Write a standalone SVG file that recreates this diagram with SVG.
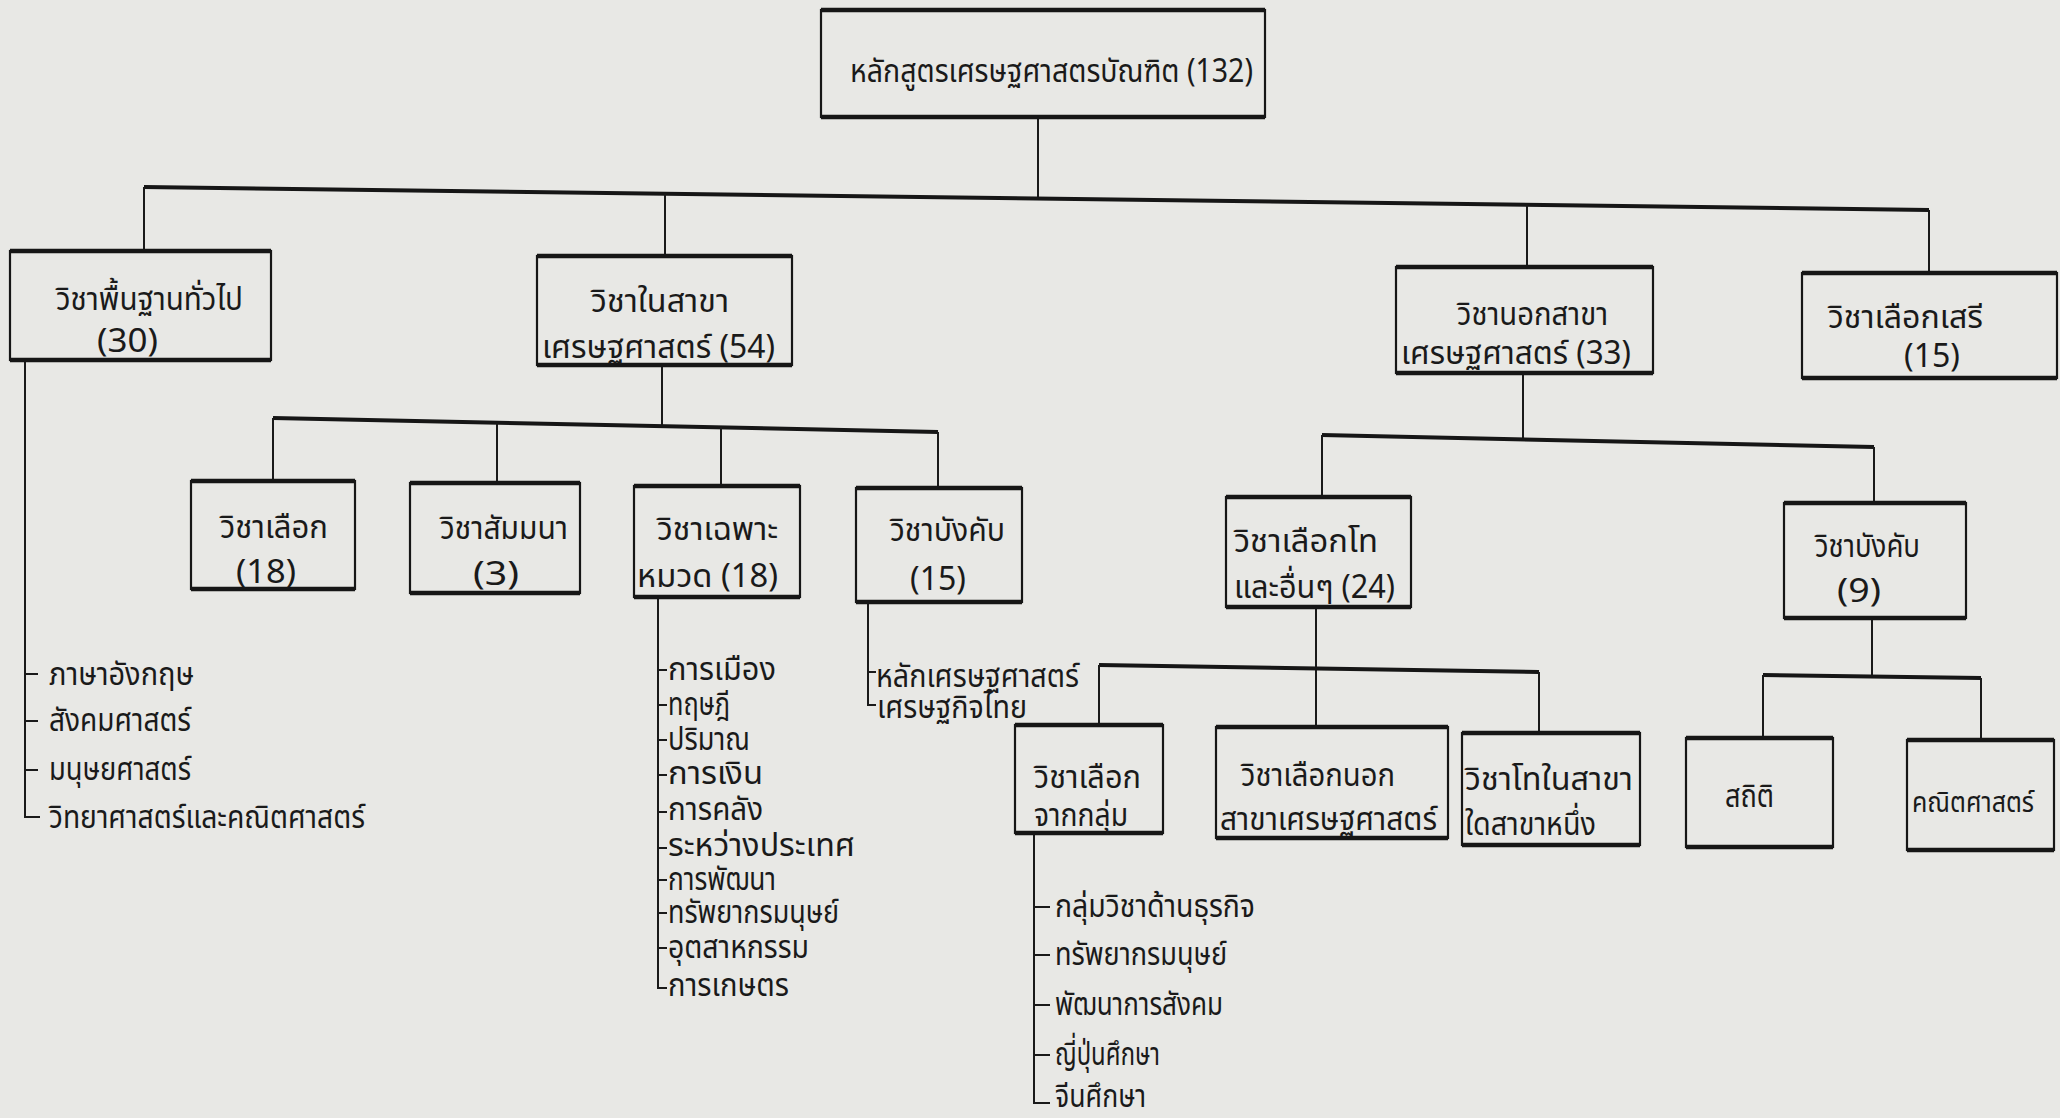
<svg xmlns="http://www.w3.org/2000/svg" width="2060" height="1118" viewBox="0 0 2060 1118">
<style>
.bg{fill:#e8e8e5}
.box{fill:none;stroke:#161616;stroke-width:2.2}
.rule{fill:none;stroke:#161616;stroke-width:4.5}
.ln{fill:none;stroke:#1a1a1a;stroke-width:2}
.bus{fill:none;stroke:#161616;stroke-width:4}
text{font-family:"Noto Sans Thai","Loma","Garuda","Noto Sans",sans-serif;font-size:32px;fill:#1a1a1a}
.sm{font-size:29px}
</style>
<rect class="bg" x="0" y="0" width="2060" height="1118"/>
<g id="connectors">
<path class="ln" d="M1038 117 V198"/>
<path class="bus" d="M144 187 L1929 210"/>
<path class="ln" d="M144 187 V251 M665 194 V256 M1527 205 V267 M1929 210 V273"/>
<path class="ln" d="M662 365 V426"/>
<path class="bus" d="M273 418 L938 432"/>
<path class="ln" d="M273 418 V481 M497 423 V483 M721 427 V486 M938 432 V488"/>
<path class="ln" d="M25 360 V817 H40 M25 674 H38 M25 721 H38 M25 770 H38"/>
<path class="ln" d="M658 597 V988 H667 M658 670 H667 M658 705 H667 M658 740 H667 M658 775 H667 M658 812 H667 M658 848 H667 M658 880 H667 M658 913 H667 M658 948 H667"/>
<path class="ln" d="M868 602 V705 H876 M868 672 H876"/>
<path class="ln" d="M1523 373 V439"/>
<path class="bus" d="M1322 435 L1874 447"/>
<path class="ln" d="M1322 435 V497 M1874 447 V503"/>
<path class="ln" d="M1316 607 V728"/>
<path class="bus" d="M1099 665 L1539 672"/>
<path class="ln" d="M1099 665 V725 M1539 672 V733"/>
<path class="ln" d="M1872 618 V676"/>
<path class="bus" d="M1763 675 L1981 678"/>
<path class="ln" d="M1763 675 V738 M1981 678 V740"/>
<path class="ln" d="M1034 833 V1103 H1050 M1034 907 H1050 M1034 955 H1050 M1034 1005 H1050 M1034 1055 H1050"/>
</g>
<g id="n0"><rect class="box" x="821" y="10" width="444" height="107"/><path class="rule" d="M821 10 H1265 M821 117 H1265"/>
<text x="850" y="82" textLength="403" lengthAdjust="spacingAndGlyphs">หลักสูตรเศรษฐศาสตรบัณฑิต (132)</text></g>
<g id="n1"><rect class="box" x="10" y="251" width="261" height="109"/><path class="rule" d="M10 251 H271 M10 360 H271"/>
<text x="56" y="310" textLength="187" lengthAdjust="spacingAndGlyphs">วิชาพื้นฐานทั่วไป</text>
<text x="97" y="352" textLength="61" lengthAdjust="spacingAndGlyphs">(30)</text></g>
<g id="n2"><rect class="box" x="537" y="256" width="255" height="109"/><path class="rule" d="M537 256 H792 M537 365 H792"/>
<text x="591" y="312" textLength="138" lengthAdjust="spacingAndGlyphs">วิชาในสาขา</text>
<text x="542" y="358" textLength="233" lengthAdjust="spacingAndGlyphs">เศรษฐศาสตร์ (54)</text></g>
<g id="n3"><rect class="box" x="1396" y="267" width="257" height="106"/><path class="rule" d="M1396 267 H1653 M1396 373 H1653"/>
<text x="1457" y="325" textLength="151" lengthAdjust="spacingAndGlyphs">วิชานอกสาขา</text>
<text x="1401" y="364" textLength="230" lengthAdjust="spacingAndGlyphs">เศรษฐศาสตร์ (33)</text></g>
<g id="n4"><rect class="box" x="1802" y="273" width="255" height="105"/><path class="rule" d="M1802 273 H2057 M1802 378 H2057"/>
<text x="1828" y="328" textLength="155" lengthAdjust="spacingAndGlyphs">วิชาเลือกเสรี</text>
<text x="1904" y="367" textLength="56" lengthAdjust="spacingAndGlyphs">(15)</text></g>
<g id="n5"><rect class="box" x="191" y="481" width="164" height="108"/><path class="rule" d="M191 481 H355 M191 589 H355"/>
<text x="220" y="538" textLength="108" lengthAdjust="spacingAndGlyphs">วิชาเลือก</text>
<text x="236" y="583" textLength="60" lengthAdjust="spacingAndGlyphs">(18)</text></g>
<g id="n6"><rect class="box" x="410" y="483" width="170" height="110"/><path class="rule" d="M410 483 H580 M410 593 H580"/>
<text x="440" y="539" textLength="128" lengthAdjust="spacingAndGlyphs">วิชาสัมมนา</text>
<text x="473" y="585" textLength="46" lengthAdjust="spacingAndGlyphs">(3)</text></g>
<g id="n7"><rect class="box" x="634" y="486" width="166" height="111"/><path class="rule" d="M634 486 H800 M634 597 H800"/>
<text x="657" y="540" textLength="121" lengthAdjust="spacingAndGlyphs">วิชาเฉพาะ</text>
<text x="637" y="587" textLength="141" lengthAdjust="spacingAndGlyphs">หมวด (18)</text></g>
<g id="n8"><rect class="box" x="856" y="488" width="166" height="114"/><path class="rule" d="M856 488 H1022 M856 602 H1022"/>
<text x="890" y="541" textLength="115" lengthAdjust="spacingAndGlyphs">วิชาบังคับ</text>
<text x="910" y="590" textLength="56" lengthAdjust="spacingAndGlyphs">(15)</text></g>
<g id="n9"><rect class="box" x="1226" y="497" width="185" height="110"/><path class="rule" d="M1226 497 H1411 M1226 607 H1411"/>
<text x="1234" y="552" textLength="144" lengthAdjust="spacingAndGlyphs">วิชาเลือกโท</text>
<text x="1234" y="598" textLength="161" lengthAdjust="spacingAndGlyphs">และอื่นๆ (24)</text></g>
<g id="n10"><rect class="box" x="1784" y="503" width="182" height="115"/><path class="rule" d="M1784 503 H1966 M1784 618 H1966"/>
<text x="1815" y="557" textLength="105" lengthAdjust="spacingAndGlyphs">วิชาบังคับ</text>
<text x="1837" y="602" textLength="44" lengthAdjust="spacingAndGlyphs">(9)</text></g>
<g id="n11"><rect class="box" x="1015" y="725" width="148" height="108"/><path class="rule" d="M1015 725 H1163 M1015 833 H1163"/>
<text x="1034" y="788" textLength="107" lengthAdjust="spacingAndGlyphs">วิชาเลือก</text>
<text x="1034" y="826" textLength="94" lengthAdjust="spacingAndGlyphs">จากกลุ่ม</text></g>
<g id="n12"><rect class="box" x="1216" y="727" width="232" height="111"/><path class="rule" d="M1216 727 H1448 M1216 838 H1448"/>
<text x="1241" y="786" textLength="154" lengthAdjust="spacingAndGlyphs">วิชาเลือกนอก</text>
<text x="1220" y="830" textLength="217" lengthAdjust="spacingAndGlyphs">สาขาเศรษฐศาสตร์</text></g>
<g id="n13"><rect class="box" x="1462" y="733" width="178" height="112"/><path class="rule" d="M1462 733 H1640 M1462 845 H1640"/>
<text x="1465" y="790" textLength="168" lengthAdjust="spacingAndGlyphs">วิชาโทในสาขา</text>
<text x="1465" y="835" textLength="131" lengthAdjust="spacingAndGlyphs">ใดสาขาหนึ่ง</text></g>
<g id="n14"><rect class="box" x="1686" y="738" width="147" height="109"/><path class="rule" d="M1686 738 H1833 M1686 847 H1833"/>
<text x="1725" y="807" textLength="49" lengthAdjust="spacingAndGlyphs">สถิติ</text></g>
<g id="n15"><rect class="box" x="1907" y="740" width="147" height="110"/><path class="rule" d="M1907 740 H2054 M1907 850 H2054"/>
<text class="sm" x="1912" y="812" textLength="122" lengthAdjust="spacingAndGlyphs">คณิตศาสตร์</text></g>
<g id="list1">
<text x="49" y="685" textLength="145" lengthAdjust="spacingAndGlyphs">ภาษาอังกฤษ</text>
<text x="49" y="731" textLength="142" lengthAdjust="spacingAndGlyphs">สังคมศาสตร์</text>
<text x="49" y="780" textLength="142" lengthAdjust="spacingAndGlyphs">มนุษยศาสตร์</text>
<text x="49" y="828" textLength="316" lengthAdjust="spacingAndGlyphs">วิทยาศาสตร์และคณิตศาสตร์</text>
</g>
<g id="list7">
<text x="668" y="680" textLength="108" lengthAdjust="spacingAndGlyphs">การเมือง</text>
<text x="668" y="715" textLength="62" lengthAdjust="spacingAndGlyphs">ทฤษฎี</text>
<text x="668" y="750" textLength="82" lengthAdjust="spacingAndGlyphs">ปริมาณ</text>
<text x="668" y="784" textLength="95" lengthAdjust="spacingAndGlyphs">การเงิน</text>
<text x="668" y="820" textLength="95" lengthAdjust="spacingAndGlyphs">การคลัง</text>
<text x="668" y="856" textLength="187" lengthAdjust="spacingAndGlyphs">ระหว่างประเทศ</text>
<text x="668" y="890" textLength="108" lengthAdjust="spacingAndGlyphs">การพัฒนา</text>
<text x="668" y="923" textLength="171" lengthAdjust="spacingAndGlyphs">ทรัพยากรมนุษย์</text>
<text x="668" y="958" textLength="141" lengthAdjust="spacingAndGlyphs">อุตสาหกรรม</text>
<text x="668" y="996" textLength="121" lengthAdjust="spacingAndGlyphs">การเกษตร</text>
</g>
<g id="list8">
<text x="876" y="687" textLength="203" lengthAdjust="spacingAndGlyphs">หลักเศรษฐศาสตร์</text>
<text x="877" y="718" textLength="150" lengthAdjust="spacingAndGlyphs">เศรษฐกิจไทย</text>
</g>
<g id="list11">
<text x="1055" y="917" textLength="200" lengthAdjust="spacingAndGlyphs">กลุ่มวิชาด้านธุรกิจ</text>
<text x="1055" y="965" textLength="172" lengthAdjust="spacingAndGlyphs">ทรัพยากรมนุษย์</text>
<text x="1055" y="1015" textLength="168" lengthAdjust="spacingAndGlyphs">พัฒนาการสังคม</text>
<text x="1055" y="1065" textLength="105" lengthAdjust="spacingAndGlyphs">ญี่ปุ่นศึกษา</text>
<text x="1055" y="1107" textLength="91" lengthAdjust="spacingAndGlyphs">จีนศึกษา</text>
</g>
</svg>
